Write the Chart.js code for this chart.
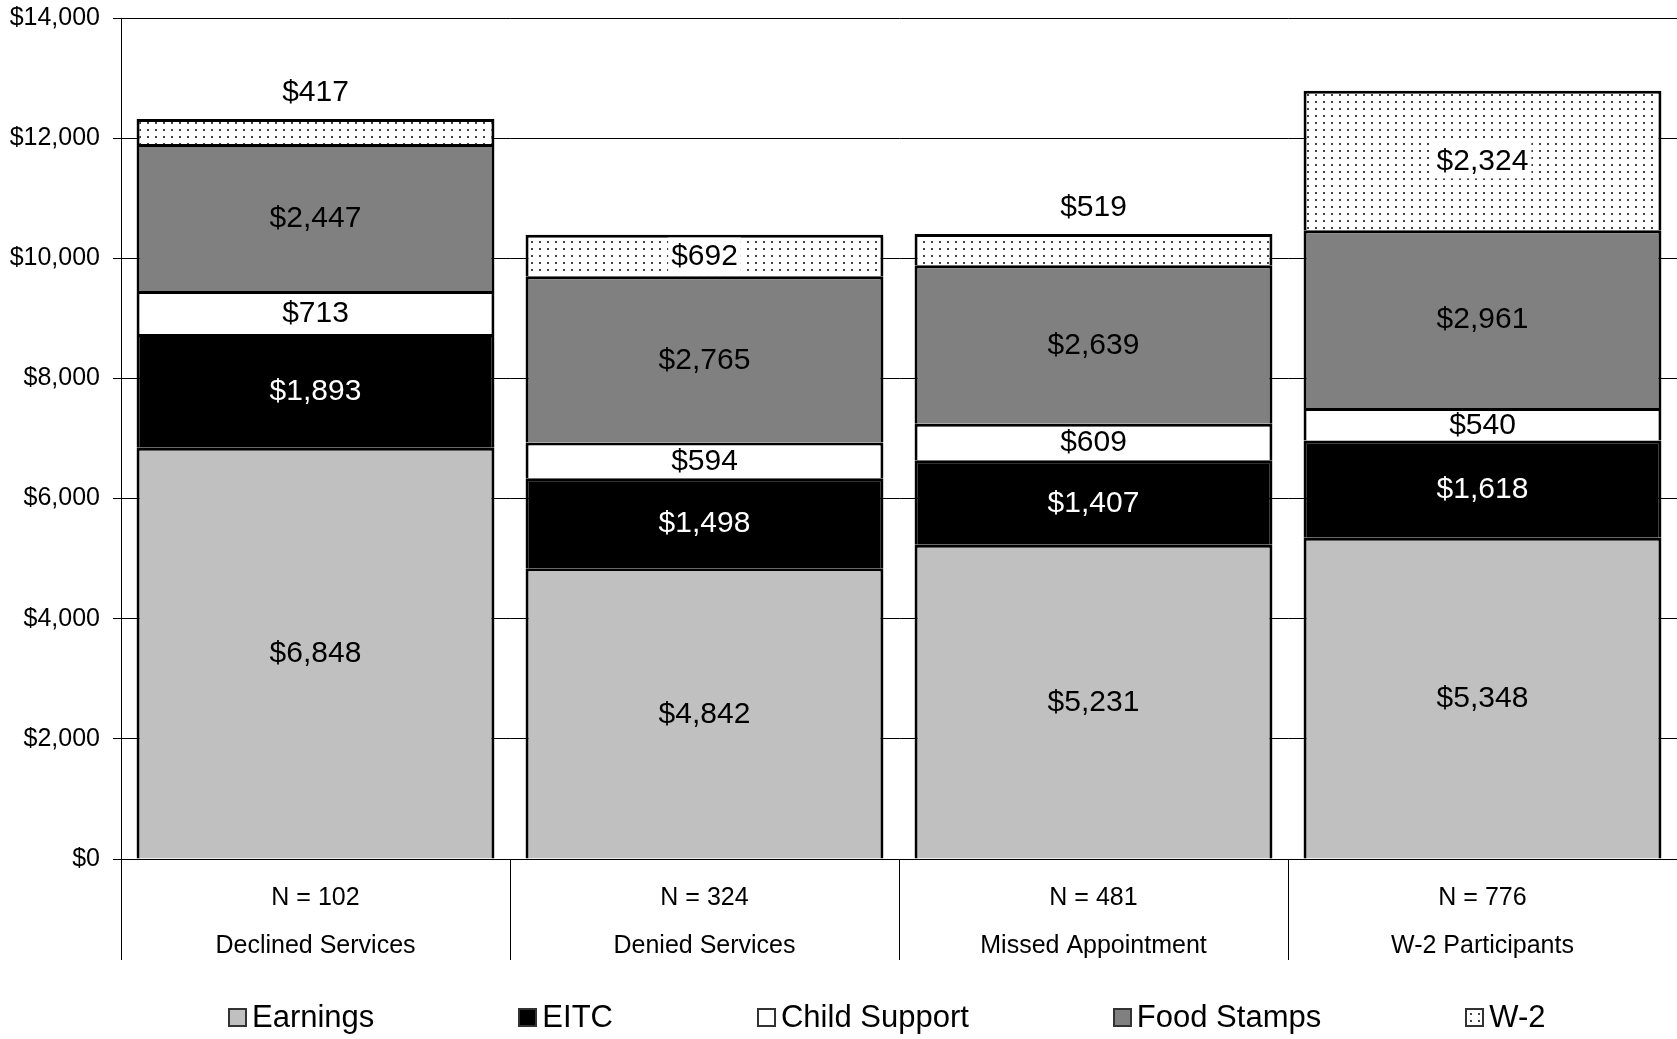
<!DOCTYPE html>
<html>
<head>
<meta charset="utf-8">
<title>Income sources by group</title>
<script src="https://cdn.jsdelivr.net/npm/chart.js@4.4.0/dist/chart.umd.min.js"></script>
<style>
    body { margin: 0; background: #fff; font-family: "Liberation Sans", Arial, sans-serif; }
    #wrap { position: relative; width: 1677px; height: 1039px; }
    #legend { position: absolute; left: 228px; top: 1000px; height: 34px; display: flex; align-items: center; gap: 144px; font-size: 31px; color: #000; }
    .item { display: flex; align-items: center; white-space: nowrap; }
    .box { width: 19px; height: 19px; box-sizing: border-box; border: 2px solid #333; margin-right: 5px; }
</style>
</head>
<body>
<div id="wrap">
    <canvas id="incomeChart" width="1677" height="1039"></canvas>
    <div id="legend"></div>
</div>
<script>
const categories = ['Declined Services', 'Denied Services', 'Missed Appointment', 'W-2 Participants'];
const sampleSizes = [102, 324, 481, 776];

const earnings = [6848, 4842, 5231, 5348];
const eitc = [1893, 1498, 1407, 1618];
const childSupport = [713, 594, 609, 540];
const foodStamps = [2447, 2765, 2639, 2961];
const w2 = [417, 692, 519, 2324];

const yTicks = [0, 2000, 4000, 6000, 8000, 10000, 12000, 14000];

Chart.defaults.font.family = '"Liberation Sans", Arial, sans-serif';
Chart.defaults.color = '#000';

// dotted fill for the W-2 segment
function makeDots() {
    let c = document.createElement('canvas');
    c.width = 8;
    c.height = 7;
    let g = c.getContext('2d');
    g.fillStyle = '#fff';
    g.fillRect(0, 0, 8, 7);
    g.fillStyle = '#444';
    g.fillRect(3, 3, 2, 2);
    return c;
}
const dotCanvas = makeDots();
const dotPattern = document.getElementById('incomeChart').getContext('2d').createPattern(dotCanvas, 'repeat');

const money = v => '$' + v.toLocaleString('en-US');

// value labels on every segment
const segmentLabels = {
    id: 'segmentLabels',
    afterDatasetsDraw(chart) {
        const ctx = chart.ctx;
        const last = chart.data.datasets.length - 1;
        ctx.save();
        ctx.font = '30px "Liberation Sans", Arial, sans-serif';
        ctx.textAlign = 'center';
        ctx.textBaseline = 'middle';
        chart.data.datasets.forEach((ds, di) => {
            const meta = chart.getDatasetMeta(di);
            meta.data.forEach((bar, i) => {
                const text = money(ds.data[i]);
                const h = bar.base - bar.y;
                let y = (bar.y + bar.base) / 2;
                let outside = false;
                // thin top segments get their label above the bar
                if (di === last && h < 36) {
                    y = bar.y - 27;
                    outside = true;
                }
                if (ds.label === 'W-2' && !outside) {
                    const w = ctx.measureText(text).width + 6;
                    ctx.fillStyle = '#fff';
                    ctx.fillRect(bar.x - w / 2, y - 18, w, 36);
                }
                ctx.fillStyle = ds.label === 'EITC' ? '#fff' : '#000';
                ctx.fillText(text, bar.x, y + 1);
            });
        });
        ctx.restore();
    }
};

const datasets = [
    { label: 'Earnings', data: earnings, backgroundColor: '#c0c0c0' },
    { label: 'EITC', data: eitc, backgroundColor: '#000000' },
    { label: 'Child Support', data: childSupport, backgroundColor: '#ffffff' },
    { label: 'Food Stamps', data: foodStamps, backgroundColor: '#808080' },
    { label: 'W-2', data: w2, backgroundColor: dotPattern }
].map(d => Object.assign(d, {
    borderColor: '#000',
    borderWidth: 3,
    borderSkipped: 'start',
    barPercentage: 0.92,
    categoryPercentage: 1.0
}));

const chart = new Chart(document.getElementById('incomeChart'), {
    type: 'bar',
    data: {
        labels: categories.map((c, i) => ['N = ' + sampleSizes[i], c]),
        datasets: datasets
    },
    options: {
        responsive: false,
        animation: false,
        layout: { padding: { top: 18, left: 0, right: 0, bottom: 60 } },
        plugins: {
            legend: { display: false },
            tooltip: { enabled: false }
        },
        scales: {
            x: {
                stacked: true,
                afterFit: s => { s.height = 120; },
                border: { color: '#000', width: 1 },
                grid: {
                    offset: true,
                    drawOnChartArea: false,
                    tickLength: 101,
                    color: '#000',
                    lineWidth: 1
                },
                ticks: {
                    autoSkip: false,
                    maxRotation: 0,
                    padding: -86,
                    font: { size: 25, lineHeight: 1.92 }
                }
            },
            y: {
                stacked: true,
                min: 0,
                max: 14000,
                afterFit: s => {
                    s.width = 121;
                    s.paddingTop = 0;
                    s.paddingBottom = 0;
                },
                afterBuildTicks: s => { s.ticks = yTicks.map(v => ({ value: v })); },
                border: { color: '#000', width: 1 },
                grid: { color: '#000', lineWidth: 1, tickLength: 8 },
                ticks: {
                    padding: 13,
                    font: { size: 25 },
                    callback: v => money(v)
                }
            }
        }
    },
    plugins: [segmentLabels]
});

// legend below the chart
const legendEl = document.getElementById('legend');
datasets.forEach(ds => {
    let item = document.createElement('div');
    item.className = 'item';
    let box = document.createElement('span');
    box.className = 'box';
    if (ds.label === 'W-2') {
        box.style.background = '#fff url(' + dotCanvas.toDataURL() + ')';
    } else {
        box.style.background = ds.backgroundColor;
    }
    item.appendChild(box);
    item.appendChild(document.createTextNode(ds.label));
    legendEl.appendChild(item);
});
</script>
</body>
</html>
